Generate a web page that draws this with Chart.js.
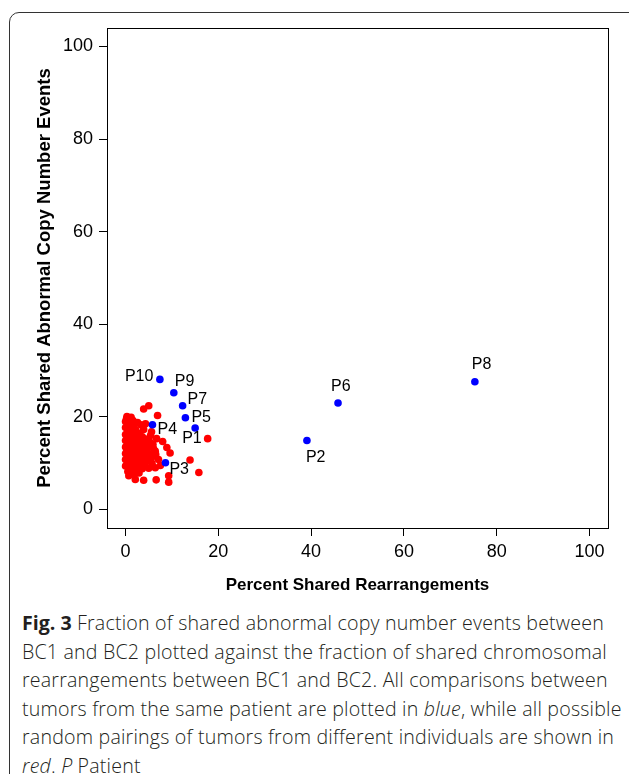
<!DOCTYPE html>
<html>
<head>
<meta charset="utf-8">
<script src="https://cdn.jsdelivr.net/npm/chart.js@4"></script>
<style>
  body { margin: 0; background: #fff; }
  #wrap { position: relative; width: 629px; height: 774px; overflow: hidden; }
  #frame {
    position: absolute; left: 9px; top: 12px; width: 630px; height: 772px;
    border: 1.5px solid #333; border-radius: 10px; box-sizing: border-box;
  }
  #plot { position: absolute; left: 0; top: 0; }
  #caption {
    position: absolute; left: 22px; top: 609px;
    font-family: "Open Sans", sans-serif; font-size: 19.6px; line-height: 28.6px;
    letter-spacing: 0.2px; font-weight: 300; color: #231f20; white-space: nowrap;
  }
  #caption b { font-weight: 700; letter-spacing: 0; }
</style>
</head>
<body>
<div id="wrap">
  <div id="frame"></div>
  <canvas id="plot" width="629" height="600"></canvas>
  <div id="caption">
    <b>Fig. 3</b> Fraction of shared abnormal copy number events between<br>
    BC1 and BC2 plotted against the fraction of shared chromosomal<br>
    rearrangements between BC1 and BC2. All comparisons between<br>
    tumors from the same patient are plotted in <i>blue</i>, while all possible<br>
    random pairings of tumors from different individuals are shown in<br>
    <i>red</i>. <i>P</i> Patient
  </div>
</div>
<script>
// same patient comparisons (blue)
var patientLabels = ['P10', 'P9', 'P7', 'P5', 'P1', 'P4', 'P3', 'P2', 'P6', 'P8'];
var patientX = [7.4, 10.4, 12.3, 12.9, 15.0, 5.8, 8.6, 39.1, 45.8, 75.3];
var patientY = [28.1, 25.2, 22.4, 19.8, 17.6, 18.3, 10.1, 14.9, 23.0, 27.6];
// label placement relative to the dot, in pixels (left edge, middle)
var labelOffsets = [[-35, -3], [1, -11], [5, -6], [6, 0], [-13, 11], [5, 5], [4, 7], [-1, 17], [-7, -16], [-3, -17]];

// random pairings (red): [rearrangements, copy number]
var randomPairs = [
  [0, 9.4], [0, 10.8], [0, 12.1], [0, 13.5], [0, 14.9], [0, 16.2], [0, 17.7],
  [0.5, 8.2], [0.4, 9.9], [0.6, 11.4], [0.3, 12.8], [0.5, 14.2], [0.4, 15.6], [0.7, 17.0], [0.6, 18.9],
  [1.1, 8.9], [1.0, 10.3], [1.2, 11.9], [1.1, 13.1], [0.9, 14.6], [1.3, 16.1], [1.0, 17.5],
  [1.7, 7.6], [1.6, 9.5], [1.8, 10.9], [1.5, 12.4], [1.9, 13.8], [1.7, 15.2], [1.6, 16.8], [1.8, 18.1],
  [2.3, 8.5], [2.4, 10.1], [2.2, 11.5], [2.5, 12.9], [2.3, 14.4], [2.6, 15.8], [2.2, 17.2],
  [2.9, 7.9], [3.0, 9.2], [2.8, 10.7], [3.1, 12.2], [2.9, 13.6], [3.2, 14.9], [3.0, 16.4],
  [3.6, 8.8], [3.5, 10.2], [3.7, 11.6], [3.4, 13.0], [3.8, 14.3], [3.6, 15.7], [3.9, 17.3],
  [4.2, 9.7], [4.4, 11.0], [4.1, 12.5], [4.5, 13.7], [4.3, 15.2],
  [5.0, 8.9], [4.9, 10.6], [5.1, 12.0], [4.8, 13.3], [5.2, 14.6], [5.4, 16.0],
  [5.7, 10.0], [5.8, 11.4], [6.0, 13.2], [5.9, 14.1],
  [6.5, 11.9], [6.7, 15.3],
  [3.9, 21.7], [5.0, 22.4], [6.9, 20.3], [0.2, 19.6], [1.6, 19.2], [4.3, 18.5], [5.6, 16.8],
  [8.0, 14.7], [8.9, 13.4], [9.6, 12.2], [17.7, 15.3], [13.9, 10.7], [15.8, 8.0],
  [9.3, 7.3], [9.3, 5.9], [6.6, 6.4], [3.9, 6.3], [2.1, 6.5], [0.7, 7.3],
  [7.5, 9.5], [6.4, 9.0], [7.1, 10.8], [6.4, 12.6],
  [0.3, 20.1], [1.2, 19.9], [2.6, 18.8], [3.3, 18.3], [0, 19.0]
];

var xTicks = [0, 20, 40, 60, 80, 100];
var yTicks = [0, 20, 40, 60, 80, 100];

var boxPlugin = {
  id: 'box',
  afterDraw: function (chart) {
    var a = chart.chartArea, c = chart.ctx;
    c.save();
    c.strokeStyle = '#000';
    c.lineWidth = 1;
    c.strokeRect(a.left + 0.5, a.top + 0.5, a.right - a.left, a.bottom - a.top);
    c.restore();
  }
};

var labelPlugin = {
  id: 'pointLabels',
  afterDatasetsDraw: function (chart) {
    var c = chart.ctx;
    var xs = chart.scales.x, ys = chart.scales.y;
    c.save();
    c.font = '16px "Liberation Sans", Arial, sans-serif';
    c.fillStyle = '#000';
    c.textAlign = 'left';
    c.textBaseline = 'middle';
    patientLabels.forEach(function (lab, i) {
      var px = xs.getPixelForValue(patientX[i]);
      var py = ys.getPixelForValue(patientY[i]);
      c.fillText(lab, px + labelOffsets[i][0], py + labelOffsets[i][1]);
    });
    c.restore();
  }
};

var ctx = document.getElementById('plot');
var myChart = new Chart(ctx, {
  type: 'scatter',
  data: {
    datasets: [{
      data: patientX.map(function (x, i) { return {x: x, y: patientY[i]}; }),
      backgroundColor: '#0000ff',
      borderWidth: 0,
      pointRadius: 3.8,
      order: 0
    }, {
      data: randomPairs.map(function (p) { return {x: p[0], y: p[1]}; }),
      backgroundColor: '#ff0000',
      borderWidth: 0,
      pointRadius: 3.8,
      order: 1
    }]
  },
  options: {
    responsive: false,
    animation: false,
    devicePixelRatio: 1,
    layout: {
      padding: {left: 0, top: 28, right: 21, bottom: 0}
    },
    plugins: {
      legend: {display: false},
      tooltip: {enabled: false}
    },
    scales: {
      x: {
        min: -4,
        max: 104,
        afterBuildTicks: function (scale) {
          scale.ticks = xTicks.map(function (v) { return {value: v}; });
        },
        afterFit: function (scale) { scale.height = 72; },
        border: {display: false},
        grid: {
          drawOnChartArea: false,
          drawTicks: true,
          tickLength: 8,
          color: '#000'
        },
        ticks: {
          color: '#000',
          padding: 5,
          font: {family: '"Liberation Sans", Arial, sans-serif', size: 18}
        },
        title: {
          display: true,
          text: 'Percent Shared Rearrangements',
          color: '#000',
          padding: {top: 0, bottom: 4},
          font: {family: '"Liberation Sans", Arial, sans-serif', size: 17, weight: 'bold'}
        }
      },
      y: {
        min: -4,
        max: 104,
        afterBuildTicks: function (scale) {
          scale.ticks = yTicks.map(function (v) { return {value: v}; });
        },
        afterFit: function (scale) { scale.width = 107; },
        border: {display: false},
        grid: {
          drawOnChartArea: false,
          drawTicks: true,
          tickLength: 8,
          color: '#000'
        },
        ticks: {
          color: '#000',
          padding: 6,
          font: {family: '"Liberation Sans", Arial, sans-serif', size: 18}
        },
        title: {
          display: true,
          text: 'Percent Shared Abnormal Copy Number Events',
          color: '#000',
          padding: {top: 34, bottom: 0},
          font: {family: '"Liberation Sans", Arial, sans-serif', size: 18.5, weight: 'bold'}
        }
      }
    }
  },
  plugins: [boxPlugin, labelPlugin]
});
</script>
</body>
</html>
